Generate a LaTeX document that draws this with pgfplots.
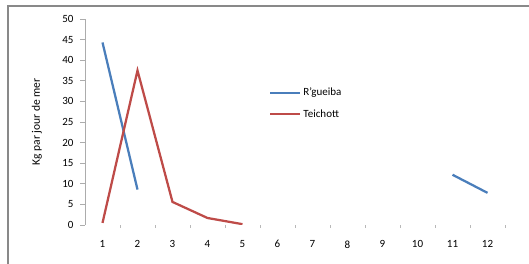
\documentclass[border=0pt]{standalone}
\usepackage{fontspec}
\setmainfont{Carlito}
\usepackage{pgfplots}
\pgfplotsset{compat=1.18}
\definecolor{bl}{HTML}{4A7EBB}
\definecolor{rd}{HTML}{BE4B48}
\definecolor{axgray}{HTML}{898989}
\begin{document}
\begin{tikzpicture}[x=1pt,y=1pt]
\useasboundingbox (0,0) rectangle (529,264);
\draw[color=axgray, line width=1.5pt] (8,-10) -- (8,258) -- (545,258);
\begin{axis}[
  at={(85pt,39pt)}, anchor=south west,
  scale only axis, width=420pt, height=206pt,
  xmin=0.5, xmax=12.5, ymin=0, ymax=50,
  axis y line=left, axis x line=bottom,
  axis line style={-},
  x axis line style={draw=none},
  y axis line style={draw=axgray!70, line width=0.6pt},
  xtick={1,...,12},
  minor xtick={1.5,2.5,...,12.5},
  ytick={0,5,...,50},
  major x tick style={draw=none},
  minor x tick style={draw=axgray!60, line width=0.8pt},
  major y tick style={draw=axgray!70, line width=0.6pt},
  tick align=outside,
  major tick length=5pt, minor tick length=3pt,
  /pgf/number format/assume math mode=true,
  tick label style={font=\fontsize{11}{13}\selectfont, text=black},
  xticklabel style={yshift=-7pt},
  yticklabel style={xshift=-3pt},
  ylabel={Kg par jour de mer},
  every axis y label/.style={at={(axis description cs:-0.1143,0.5)}, rotate=90, anchor=center, font=\fontsize{11.5}{13}\selectfont},
  unbounded coords=jump,
  legend style={draw=none, fill=none, at={(axis description cs:0.4381,0.675)}, anchor=north west, font=\fontsize{11}{13}\selectfont, row sep=8pt, inner sep=0pt},
  legend cell align=left,
  legend image code/.code={\draw[#1] (0pt,0pt) -- (30pt,0pt);},
]
\addplot[bl, line width=2.25pt] coordinates {(1,44.3) (2,8.6) (3,nan) (10,nan) (11,12.2) (12,7.8)};
\addlegendentry{R'gueiba}
\addplot[rd, line width=2.25pt] coordinates {(1,0.5) (2,37.5) (3,5.6) (4,1.7) (5,0.2)};
\addlegendentry{Teichott}
\end{axis}
\end{tikzpicture}
\end{document}
